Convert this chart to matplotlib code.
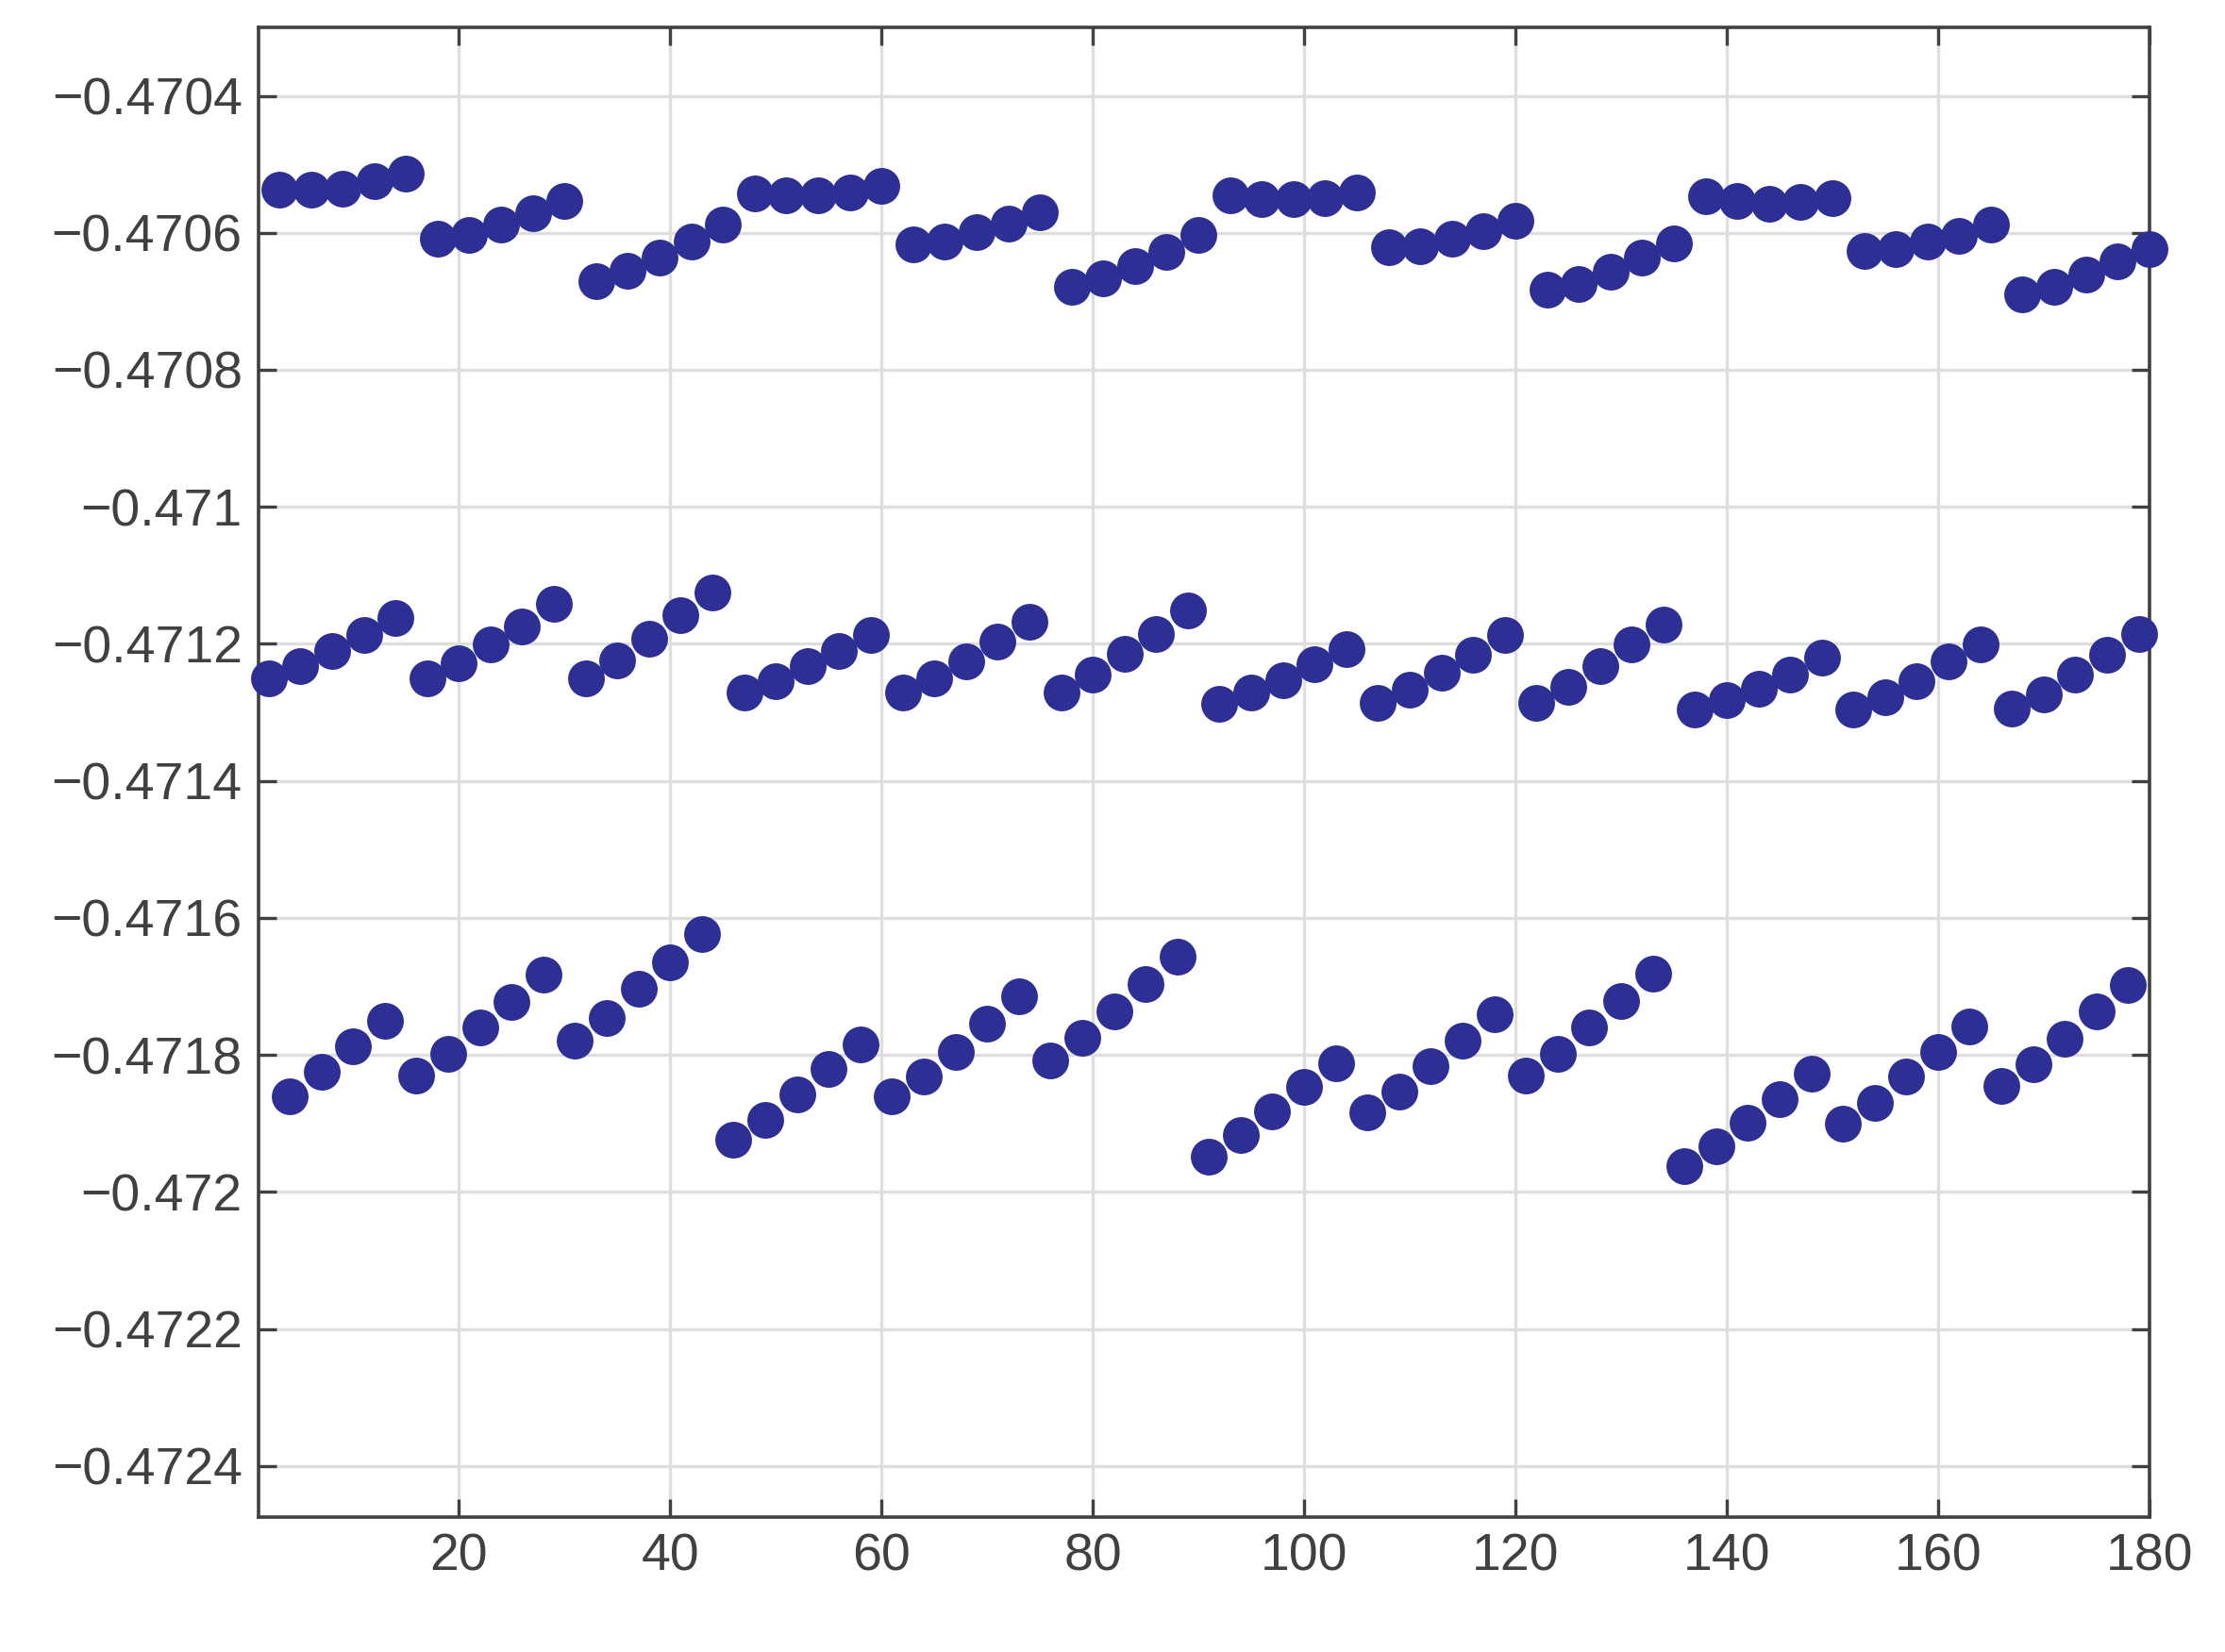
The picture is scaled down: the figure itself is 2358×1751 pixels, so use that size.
import matplotlib
matplotlib.use("Agg")
import matplotlib.pyplot as plt
from matplotlib.ticker import FuncFormatter

x_top = list(range(3, 181, 3))
y_top = [-0.470537,-0.470537,-0.470535,-0.470524,-0.470514,
         -0.470609,-0.470603,-0.470588,-0.470572,-0.470553,
         -0.470671,-0.470655,-0.470636,-0.470613,-0.470588,
         -0.470543,-0.470545,-0.470545,-0.470541,-0.470532,
         -0.470617,-0.470613,-0.470599,-0.470586,-0.470570,
         -0.470679,-0.470667,-0.470648,-0.470628,-0.470603,
         -0.470545,-0.470551,-0.470551,-0.470549,-0.470541,
         -0.470621,-0.470619,-0.470609,-0.470597,-0.470582,
         -0.470683,-0.470675,-0.470657,-0.470636,-0.470615,
         -0.470547,-0.470553,-0.470557,-0.470555,-0.470549,
         -0.470626,-0.470624,-0.470613,-0.470605,-0.470588,
         -0.470690,-0.470679,-0.470661,-0.470642,-0.470624]

x_mid = list(range(2, 180, 3))
y_mid = [-0.471251,-0.471232,-0.471211,-0.471187,-0.471162,
         -0.471251,-0.471228,-0.471201,-0.471174,-0.471141,
         -0.471251,-0.471224,-0.471193,-0.471158,-0.471125,
         -0.471271,-0.471255,-0.471232,-0.471211,-0.471187,
         -0.471271,-0.471251,-0.471226,-0.471197,-0.471168,
         -0.471271,-0.471245,-0.471214,-0.471185,-0.471151,
         -0.471288,-0.471271,-0.471253,-0.471230,-0.471207,
         -0.471286,-0.471267,-0.471242,-0.471216,-0.471187,
         -0.471286,-0.471263,-0.471232,-0.471201,-0.471172,
         -0.471296,-0.471282,-0.471265,-0.471245,-0.471220,
         -0.471296,-0.471278,-0.471255,-0.471226,-0.471201,
         -0.471294,-0.471274,-0.471245,-0.471216,-0.471185]

x_bot = list(range(4, 179, 3))
y_bot = [-0.471861,-0.471824,-0.471787,-0.471750,
         -0.471830,-0.471799,-0.471760,-0.471723,-0.471683,
         -0.471779,-0.471746,-0.471704,-0.471665,-0.471623,
         -0.471924,-0.471895,-0.471857,-0.471820,-0.471785,
         -0.471861,-0.471832,-0.471795,-0.471754,-0.471714,
         -0.471808,-0.471775,-0.471737,-0.471696,-0.471656,
         -0.471948,-0.471917,-0.471882,-0.471847,-0.471812,
         -0.471884,-0.471853,-0.471816,-0.471779,-0.471741,
         -0.471830,-0.471799,-0.471760,-0.471721,-0.471681,
         -0.471963,-0.471934,-0.471899,-0.471864,-0.471828,
         -0.471901,-0.471870,-0.471832,-0.471795,-0.471758,
         -0.471845,-0.471814,-0.471777,-0.471737,-0.471698]

x_ticks = [20, 40, 60, 80, 100, 120, 140, 160, 180]
y_ticks = [-0.4704, -0.4706, -0.4708, -0.471, -0.4712, -0.4714,
           -0.4716, -0.4718, -0.472, -0.4722, -0.4724]

plt.rcParams['font.family'] = ['Liberation Sans', 'DejaVu Sans']
fig = plt.figure(figsize=(11.79, 8.755), dpi=200)
ax = fig.add_axes([0.116, 0.0815, 0.850, 0.902])
color = '#2e2f94'
for xs, ys in [(x_top, y_top), (x_mid, y_mid), (x_bot, y_bot)]:
    ax.plot(xs, ys, 'o', color=color, markersize=13, linestyle='none', zorder=3, clip_on=False)

ax.set_xlim(1, 180)
ax.set_ylim(-0.472475, -0.47030)
ax.set_xticks(x_ticks)
ax.set_yticks(y_ticks)
ax.yaxis.set_major_formatter(FuncFormatter(lambda v, p: ('%g' % v).replace('-', '\u2212')))
ax.grid(True, color='#dedede', linewidth=1.2)
ax.set_axisbelow(True)
ax.tick_params(direction='in', top=True, right=True, length=7, width=1.2,
               colors='#404040', labelsize=20, labelcolor='#404040', pad=6)
for s in ax.spines.values():
    s.set_color('#404040')
    s.set_linewidth(1.3)
fig.savefig('out.png', dpi=200)
